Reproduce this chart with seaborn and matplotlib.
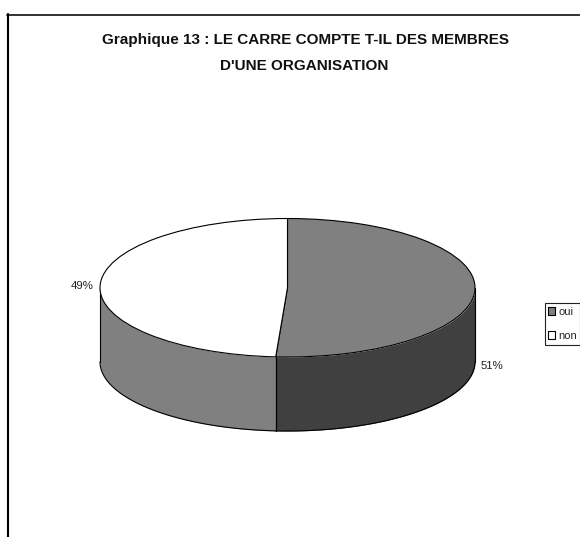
# pie chart "Graphique 13" - flat pie + hand drawn cylinder wall
import numpy as np
import matplotlib
matplotlib.use("Agg")
import matplotlib.pyplot as plt
from matplotlib.lines import Line2D
from matplotlib.patches import Patch
import seaborn as sns

categories = ["oui", "non"]
values = [51, 49]
top_colors = ["#808080", "#ffffff"]
wall_colors = ["#404040", "#808080"]
title = "Graphique 13 : LE CARRE COMPTE T-IL DES MEMBRES\nD'UNE ORGANISATION"

sns.set_theme(style="white")
plt.rcParams["font.family"] = ["Liberation Sans", "DejaVu Sans"]

W, H = 580, 537
fig = plt.figure(figsize=(W / 100, H / 100), dpi=100, facecolor="white")

# axes box is the top ellipse of the pie, in pixels
left, right, top, bottom = 100, 475, 218.5, 357
ax = fig.add_axes([left / W, 1 - bottom / H, (right - left) / W, (bottom - top) / H])

ax.pie(values, colors=sns.color_palette(top_colors), startangle=90, counterclock=False,
       wedgeprops={"edgecolor": "black", "linewidth": 0.8, "clip_on": False, "zorder": 3})
ax.set_aspect("auto")
ax.set_xlim(-1, 1)
ax.set_ylim(-1, 1)

# ---- side wall ----
depth = 74 / ((bottom - top) / 2)
start = 90.0
for val, col in zip(values, sns.color_palette(wall_colors)):
    end = start - 360 * val / sum(values)
    a0 = min(start, 0)
    a1 = max(end, -180)
    if a0 > a1:
        t = np.radians(np.linspace(a0, a1, 120))
        x = np.cos(t)
        y = np.sin(t)
        ax.fill_between(x, y, y - depth, color=col, lw=0, clip_on=False, zorder=1)
        ax.plot(x, y - depth, color="black", lw=0.8, clip_on=False, zorder=2)
        for a in (a0, a1):
            xa = np.cos(np.radians(a))
            ya = np.sin(np.radians(a))
            ax.plot([xa, xa], [ya, ya - depth], color="black", lw=0.8, clip_on=False, zorder=2)
    start = end

# ---- percent labels ----
ax.text(-1.095, 0.02, f"{values[1]}%", fontsize=8.2, color="#222222", ha="center", va="center", clip_on=False)
ax.text(1.092, -1.125, f"{values[0]}%", fontsize=8.2, color="#222222", ha="center", va="center", clip_on=False)

# ---- title ----
fig.text(305 / W, 1 - 40 / H, title.split("\n")[0], fontsize=11, fontweight="bold",
         color="#111111", ha="center", va="center")
fig.text(304 / W, 1 - 66 / H, title.split("\n")[1], fontsize=11, fontweight="bold",
         color="#111111", ha="center", va="center")

# ---- legend ----
handles = [Patch(facecolor=c, edgecolor="black", linewidth=0.8) for c in top_colors]
leg = fig.legend(handles, categories, loc="center", bbox_to_anchor=(562.5 / W, 1 - 324 / H),
                 fontsize=8, frameon=True, fancybox=False, edgecolor="#222222",
                 framealpha=1, handlelength=0.6, handleheight=0.75, handletextpad=0.3,
                 borderpad=0.3, labelspacing=1.3, borderaxespad=0)
leg.get_frame().set_linewidth(0.8)

# ---- page frame (top and left only) ----
fig.add_artist(Line2D([7 / W, 1], [1 - 14.5 / H, 1 - 14.5 / H], color="#222222", lw=1.3))
fig.add_artist(Line2D([7.9 / W, 7.9 / W], [1 - 14 / H, 0], color="black", lw=1.5))

fig.savefig("out.png", dpi=100, facecolor="white")
